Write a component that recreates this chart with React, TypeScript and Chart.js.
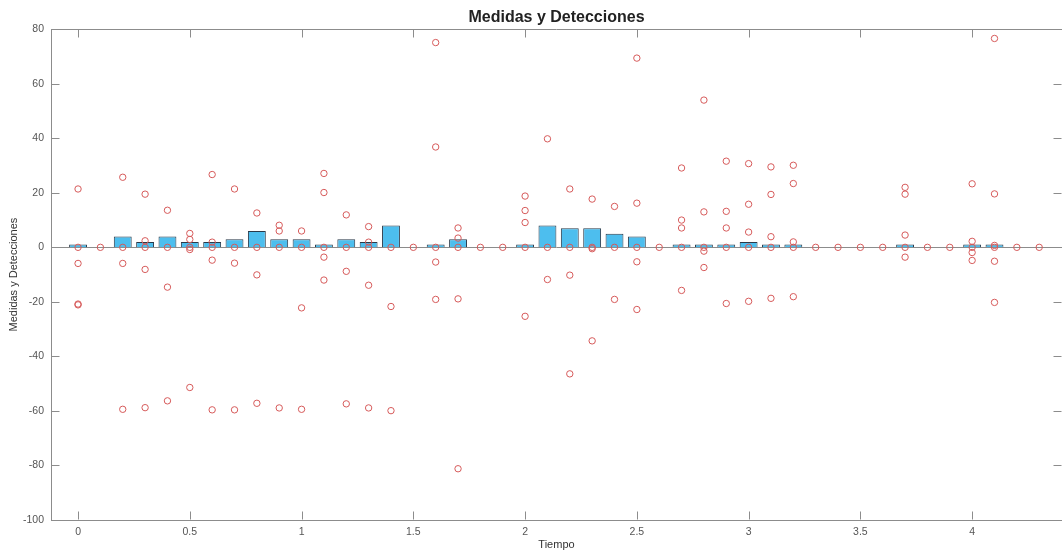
import React, { useEffect, useRef } from 'react';
import { Chart, registerables } from 'chart.js';

Chart.register(...registerables);

// ---- data ----
const times: number[] = [
  0, 0.1, 0.2, 0.3, 0.4, 0.5, 0.6, 0.7, 0.8, 0.9,
  1.0, 1.1, 1.2, 1.3, 1.4, 1.5, 1.6, 1.7, 1.8, 1.9,
  2.0, 2.1, 2.2, 2.3, 2.4, 2.5, 2.6, 2.7, 2.8, 2.9,
  3.0, 3.1, 3.2, 3.3, 3.4, 3.5, 3.6, 3.7, 3.8, 3.9,
  4.0, 4.1, 4.2, 4.3,
];

const barValues: number[] = [
  1, 0, 4, 2, 4, 2, 2, 3, 6, 3,
  3, 1, 3, 2, 8, 0, 1, 3, 0, 0,
  1, 8, 7, 7, 5, 4, 0, 1, 1, 1,
  2, 1, 1, 0, 0, 0, 0, 1, 0, 0,
  1, 1, 0, 0,
];

// detections (measured values) for each time step, same order as `times`
const detections: number[][] = [
  [21.4, 0, -5.9, -20.8, -21.1],
  [0],
  [25.7, 0, -5.9, -59.4],
  [19.5, 2.4, 0, -8.1, -58.8],
  [13.6, 0, -14.6, -56.3],
  [5.1, 2.9, 0, -0.8, -51.4],
  [26.7, 1.9, 0, -4.7, -59.6],
  [21.4, 0, -5.8, -59.6],
  [12.6, 0, -10.1, -57.2],
  [8.1, 6.0, 0, -58.9],
  [6.0, 0, -22.2, -59.4],
  [27.1, 20.1, 0, -3.6, -12.0],
  [11.9, 0, -8.8, -57.4],
  [7.6, 1.9, 0, -13.9, -58.9],
  [0, -21.7, -59.9],
  [0],
  [75.1, 36.8, 0, -5.4, -19.1],
  [7.1, 3.4, 0, -18.9, -81.2],
  [0],
  [0],
  [18.8, 13.5, 9.1, 0, -25.3],
  [39.8, 0, -11.8],
  [21.4, 0, -10.2, -46.4],
  [17.7, 0, -0.5, -34.3],
  [15.0, 0, -19.1],
  [69.4, 16.2, 0, -5.3, -22.8],
  [0],
  [29.1, 10.0, 7.1, 0, -15.8],
  [54.0, 13.0, 0, -1.4, -7.4],
  [31.6, 13.2, 7.1, 0, -20.6],
  [30.7, 15.8, 5.6, 0, -19.8],
  [29.5, 19.4, 3.9, 0, -18.7],
  [30.1, 23.4, 2.0, 0, -18.1],
  [0],
  [0],
  [0],
  [0],
  [22.0, 19.5, 4.5, 0, -3.6],
  [0],
  [0],
  [23.3, 2.2, 0, -1.9, -4.8],
  [76.6, 19.6, 0.7, 0, -5.1, -20.2],
  [0],
  [0],
];

const xTickValues: number[] = [0, 0.5, 1, 1.5, 2, 2.5, 3, 3.5, 4];
const yTickValues: number[] = [-100, -80, -60, -40, -20, 0, 20, 40, 60, 80];

const titleText = 'Medidas y Detecciones';
const xTitle = 'Tiempo';
const yTitle = 'Medidas y Detecciones';

// ---- styles ----
const FONT = "'Liberation Sans', Arial, Helvetica, sans-serif";
const AXIS_COLOR = '#8c8c8c';
const TICK_TEXT = '#555555';
const BAR_FILL = '#4DBEEE';
const BAR_EDGE = '#2a3a4a';
const POINT_COLOR = '#d65a5a';
const TICK_LEN = 8;

const framePlugin = {
  id: 'matlabFrame',
  beforeDatasetsDraw(chart: any) {
    const { ctx, chartArea: a, scales } = chart;
    const y0 = Math.round(scales.y.getPixelForValue(0)) + 0.5;
    ctx.save();
    ctx.strokeStyle = AXIS_COLOR;
    ctx.lineWidth = 1;
    ctx.beginPath();
    ctx.moveTo(a.left, y0);
    ctx.lineTo(a.right, y0);
    ctx.stroke();
    ctx.restore();
  },
  afterDraw(chart: any) {
    const { ctx, chartArea: a, scales } = chart;
    ctx.save();
    ctx.strokeStyle = AXIS_COLOR;
    ctx.lineWidth = 1;
    ctx.beginPath();
    const top = Math.round(a.top) + 0.5;
    const bottom = Math.round(a.bottom) - 0.5;
    const left = Math.round(a.left) + 0.5;
    const right = Math.round(a.right) - 0.5;
    // top border
    ctx.moveTo(a.left, top);
    ctx.lineTo(a.right, top);
    // x ticks (inward, bottom and top)
    for (const t of scales.x.ticks) {
      const px = Math.round(scales.x.getPixelForValue(t.value)) + 0.5;
      ctx.moveTo(px, bottom);
      ctx.lineTo(px, bottom - TICK_LEN);
      ctx.moveTo(px, top);
      ctx.lineTo(px, top + TICK_LEN);
    }
    // y ticks (inward, left and right)
    for (const t of scales.y.ticks) {
      const py = Math.round(scales.y.getPixelForValue(t.value)) + 0.5;
      ctx.moveTo(left, py);
      ctx.lineTo(left + TICK_LEN, py);
      ctx.moveTo(right, py);
      ctx.lineTo(right - TICK_LEN, py);
    }
    ctx.stroke();
    ctx.restore();
  },
};

export default function App() {
  const canvasRef = useRef<HTMLCanvasElement | null>(null);

  useEffect(() => {
    const canvas = canvasRef.current;
    if (!canvas) return;

    const barData = times.map((t, i) => ({ x: t, y: barValues[i] }));
    const pointData: { x: number; y: number }[] = [];
    times.forEach((t, i) => {
      detections[i].forEach((v) => pointData.push({ x: t, y: v }));
    });

    const chart = new Chart(canvas, {
      type: 'bar',
      data: {
        datasets: [
          {
            type: 'scatter',
            label: 'Detecciones',
            data: pointData,
            order: 0,
            pointStyle: 'circle',
            pointRadius: 3.2,
            pointBorderWidth: 1,
            borderColor: POINT_COLOR,
            backgroundColor: 'rgba(0,0,0,0)',
            pointBackgroundColor: 'rgba(0,0,0,0)',
            pointBorderColor: POINT_COLOR,
            showLine: false,
          } as any,
          {
            type: 'bar',
            label: 'Medidas',
            data: barData,
            order: 1,
            backgroundColor: BAR_FILL,
            borderColor: BAR_EDGE,
            borderWidth: 1,
            barPercentage: 0.8,
            categoryPercentage: 1.0,
          } as any,
        ],
      },
      options: {
        animation: false,
        responsive: false,
        events: [],
        layout: { padding: 0, autoPadding: false },
        plugins: {
          legend: { display: false },
          tooltip: { enabled: false },
          title: {
            display: true,
            text: titleText,
            fullSize: false,
            color: '#222222',
            font: { family: FONT, size: 16, weight: 'bold' },
            padding: { top: 8, bottom: 2 },
          },
        },
        scales: {
          x: {
            type: 'linear',
            min: -0.121,
            max: 4.402,
            offset: false,
            afterBuildTicks: (s: any) => {
              s.ticks = xTickValues.map((v) => ({ value: v }));
            },
            afterFit: (s: any) => {
              s.height = 31;
            },
            grid: { display: false, drawTicks: false },
            border: { display: true, color: AXIS_COLOR, width: 1 },
            ticks: {
              color: TICK_TEXT,
              font: { family: FONT, size: 10.5 },
              padding: 6,
              maxRotation: 0,
              autoSkip: false,
              includeBounds: false,
              callback: (v: any) => String(v),
            },
            title: {
              display: true,
              text: xTitle,
              color: '#333333',
              font: { family: FONT, size: 11 },
              padding: { top: 0, bottom: -1 },
            },
          },
          y: {
            type: 'linear',
            min: -100,
            max: 80,
            afterBuildTicks: (s: any) => {
              s.ticks = yTickValues.map((v) => ({ value: v }));
            },
            afterFit: (s: any) => {
              s.width = 51;
            },
            grid: { display: false, drawTicks: false },
            border: { display: true, color: AXIS_COLOR, width: 1 },
            ticks: {
              color: TICK_TEXT,
              font: { family: FONT, size: 10.5 },
              padding: 7,
              autoSkip: false,
              includeBounds: false,
              callback: (v: any) => String(v),
            },
            title: {
              display: true,
              text: yTitle,
              color: '#333333',
              font: { family: FONT, size: 11 },
              padding: { top: 7, bottom: 0 },
            },
          },
        },
      } as any,
      plugins: [framePlugin],
    });

    return () => chart.destroy();
  }, []);

  return (
    <div
      style={{
        position: 'absolute',
        left: 0,
        top: 0,
        width: 1062,
        height: 551,
        background: '#ffffff',
        overflow: 'hidden',
      }}
    >
      <canvas ref={canvasRef} width={1062} height={551} style={{ display: 'block' }} />
    </div>
  );
}
